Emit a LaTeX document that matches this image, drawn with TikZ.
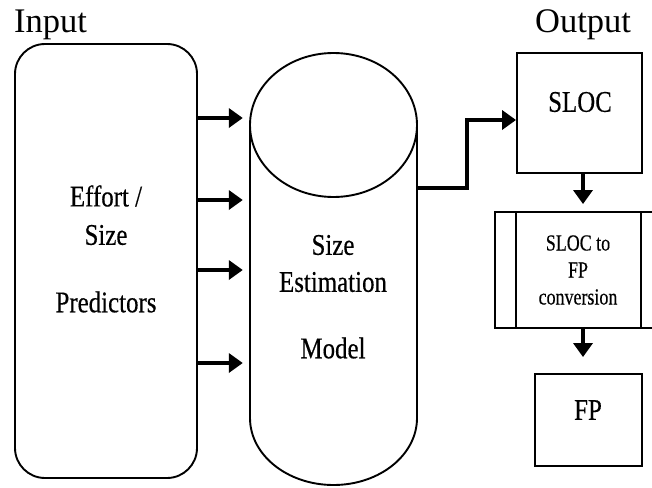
\documentclass[tikz,border=0pt]{standalone}
\usepackage{fontspec}
\setmainfont{Liberation Serif}
\newfontfamily\condfont[FakeStretch=0.83,FakeBold=0.4]{Liberation Serif}
\newfontfamily\narrowfont[FakeStretch=0.78,FakeBold=0.3]{Liberation Serif}
\usetikzlibrary{arrows.meta}
\begin{document}
\begin{tikzpicture}[x=1pt,y=-1pt,
  outline/.style={draw=black,line width=1.9pt},
  boxtext/.style={font=\condfont\fontsize{30}{34}\selectfont,inner sep=0pt},
  smalltext/.style={font=\narrowfont\fontsize{23}{27}\selectfont,inner sep=0pt},
  heading/.style={font=\fontsize{34.5}{38}\selectfont,inner sep=0pt},
  flow/.style={line width=3.8pt,-{Triangle[length=14pt,width=19pt]}}]
\clip (0,0) rectangle (652,487);
\fill[white] (0,0) rectangle (652,487);

% headings
\node[heading,anchor=base west] (inlbl) at (14,33) {Input};
\node[heading,anchor=base] (outlbl) at (583,33) {Output};

% input block
\node[outline,rounded corners=30pt,minimum width=182pt,minimum height=434pt] (inp) at (106,261) {};
\node[boxtext] (t1) at (106,196) {Effort /};
\node[boxtext] (t2) at (106,235) {Size};
\node[boxtext] (t3) at (106,302) {Predictors};

% model cylinder
\node[minimum width=167pt,minimum height=432pt,inner sep=0pt] (cyl) at (333.5,269) {};
\draw[outline] (250,125) -- (250,418) arc[start angle=180,end angle=0,x radius=83.5,y radius=67]
  -- (417,125);
\draw[outline] (333.5,125) ellipse[x radius=83.5,y radius=72];
\node[boxtext] (m1) at (333,245) {Size};
\node[boxtext] (m2) at (333,282) {Estimation};
\node[boxtext] (m3) at (333,348) {Model};

% inputs into the model
\foreach \yy in {118,200,270,363}
  \draw[flow] (inp.east |- 0,\yy) -- ([xshift=-7pt]cyl.west |- 0,\yy);

% output chain
\node[outline,minimum width=125pt,minimum height=120pt] (sloc) at (579.5,113) {};
\node[boxtext] at (580,102) (sloct) {SLOC};

\node[outline,minimum width=167pt,minimum height=116pt] (conv) at (578.5,270) {};
\draw[outline] (516,212) -- (516,328);
\draw[outline] (641,212) -- (641,328);
\node[smalltext] (c1) at (578,243) {SLOC to};
\node[smalltext] (c2) at (578,270) {FP};
\node[smalltext] (c3) at (578,297) {conversion};

\node[outline,minimum width=107pt,minimum height=92pt] (fp) at (588.5,420) {};
\node[boxtext] (fpt) at (588,410) {FP};

\draw[flow] (cyl.east |- 0,188) -- (467,188) |- (sloc.west |- 0,120);
\draw[flow] (sloc.south -| 583,0) -- ([yshift=7pt]conv.north -| 583,0);
\draw[flow] (conv.south -| 583,0) -- ([yshift=16pt]fp.north -| 583,0);
\end{tikzpicture}
\end{document}
